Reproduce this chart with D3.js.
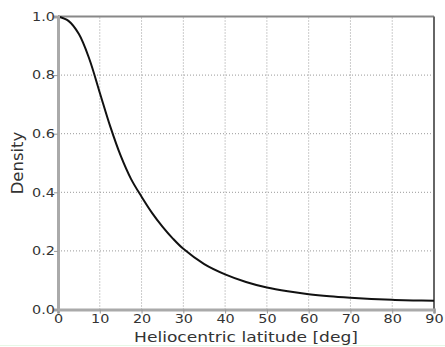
<!DOCTYPE html>
<html>
<head>
<meta charset="utf-8">
<script src="https://cdn.jsdelivr.net/npm/d3@7"></script>
<style>
  html, body { margin: 0; padding: 0; background: #fff; }
  svg { display: block; }
  text { font-family: "DejaVu Sans", sans-serif; fill: #333; }
</style>
</head>
<body>
<svg id="chart" width="445" height="347"></svg>
<script>
// Density profile vs heliocentric latitude
const latitude = [0, 2.5, 5, 7.5, 10, 12.5, 15, 17.5, 20, 22.5, 25, 27.5, 30, 35, 40, 45, 50, 55, 60, 65, 70, 75, 80, 85, 90];
const density  = [1.0, 0.985, 0.94, 0.855, 0.74, 0.625, 0.525, 0.445, 0.385, 0.33, 0.283, 0.242, 0.207, 0.155, 0.12, 0.094, 0.075, 0.062, 0.052, 0.045, 0.040, 0.036, 0.033, 0.031, 0.030];
const xTicks = [0, 10, 20, 30, 40, 50, 60, 70, 80, 90];
const yTicks = [0.0, 0.2, 0.4, 0.6, 0.8, 1.0];

const svg = d3.select("#chart");
const margin = { left: 58, right: 11, top: 16.5, bottom: 37.5 };
const W = 445, H = 347;

const x = d3.scaleLinear().domain([0, 90]).range([margin.left, W - margin.right]);
const y = d3.scaleLinear().domain([0, 1]).range([H - margin.bottom, margin.top]);

// dotted grid
const grid = svg.append("g");
grid.selectAll("line.vx").data(xTicks.slice(1, -1)).join("line")
  .attr("x1", d => x(d)).attr("x2", d => x(d))
  .attr("y1", y(0)).attr("y2", y(1))
  .attr("stroke", "#999").attr("stroke-width", 1).attr("stroke-dasharray", "1,2");
grid.selectAll("line.hy").data(yTicks.slice(1, -1)).join("line")
  .attr("x1", x(0)).attr("x2", x(90))
  .attr("y1", d => y(d)).attr("y2", d => y(d))
  .attr("stroke", "#999").attr("stroke-width", 1).attr("stroke-dasharray", "1,2");

// frame
svg.append("line").attr("x1", x(0)).attr("x2", x(90)).attr("y1", y(1)).attr("y2", y(1))
  .attr("stroke", "#888").attr("stroke-width", 2);
svg.append("line").attr("x1", x(90)).attr("x2", x(90)).attr("y1", y(1)).attr("y2", y(0))
  .attr("stroke", "#666").attr("stroke-width", 2);

// curve
const line = d3.line().x(d => x(d[0])).y(d => y(d[1])).curve(d3.curveCatmullRom.alpha(0.5));
svg.append("path")
  .datum(latitude.map((d, i) => [d, density[i]]))
  .attr("d", line)
  .attr("fill", "none").attr("stroke", "#111").attr("stroke-width", 2);

// axes
const xAxis = svg.append("g").attr("transform", `translate(0,${y(0)})`)
  .call(d3.axisBottom(x).tickValues(xTicks).tickSize(4).tickFormat(d3.format("d")));
const yAxis = svg.append("g").attr("transform", `translate(${x(0)},0)`)
  .call(d3.axisLeft(y).tickValues(yTicks).tickSize(4).tickFormat(d3.format(".1f")));

[xAxis, yAxis].forEach(g => {
  g.select(".domain").attr("stroke", "#aaa").attr("stroke-width", 3);
  g.selectAll(".tick line").attr("stroke", "#999");
  g.selectAll(".tick text").attr("fill", "#333").style("font-size", "12px")
    .style("font-family", "DejaVu Sans");
});
// wide tick lettering
xAxis.selectAll(".tick text")
  .attr("y", null).attr("dy", null)
  .attr("transform", "translate(0,13.5) scale(1.2,1)");
yAxis.selectAll(".tick text")
  .attr("x", null)
  .attr("text-anchor", "end")
  .attr("transform", "translate(-3,0) scale(1.2,1)");

// axis titles
svg.append("text")
  .attr("transform", `translate(${(x(0) + x(90)) / 2},341.5) scale(1.18,1)`)
  .attr("text-anchor", "middle").style("font-size", "14.5px")
  .text("Heliocentric latitude [deg]");
svg.append("text")
  .attr("transform", `translate(23,${(y(0) + y(1)) / 2}) rotate(-90) scale(1.1,1)`)
  .attr("text-anchor", "middle").style("font-size", "15px")
  .text("Density");

// faint rule at the bottom edge
svg.append("line").attr("x1", 0).attr("x2", W).attr("y1", 345.5).attr("y2", 345.5)
  .attr("stroke", "#e6f8e6").attr("stroke-width", 1);
</script>
</body>
</html>
